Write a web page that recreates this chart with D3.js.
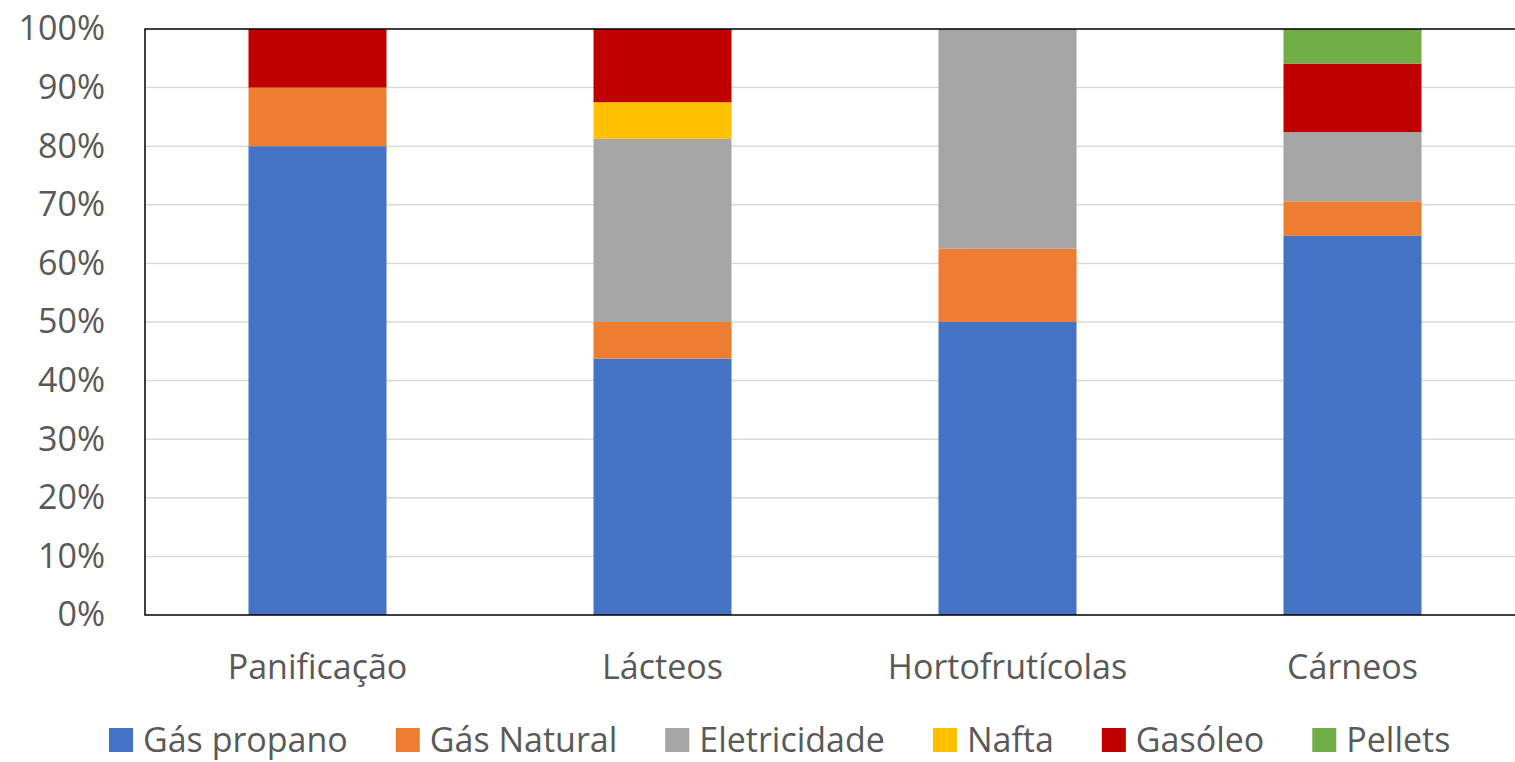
<!DOCTYPE html>
<html lang="pt">
<head>
<meta charset="UTF-8">
<script src="https://d3js.org/d3.v7.min.js"></script>
<title>Combustíveis por setor</title>
<style>
  body { margin: 0; background: #fff; }
  text { font-family: "Open Sans", "Liberation Sans", sans-serif; fill: #595959; }
</style>
</head>
<body>
<script>
// categories and series (shares, %)
var categories = ["Panificação", "Lácteos", "Hortofrutícolas", "Cárneos"]
var seriesNames = ["Gás propano", "Gás Natural", "Eletricidade", "Nafta", "Gasóleo", "Pellets"]
var colors = ["#4472C4", "#ED7D31", "#A5A5A5", "#FFC000", "#C00000", "#70AD47"]
var gasPropano = [80, 43.75, 50, 64.7]
var gasNatural = [10, 6.25, 12.5, 5.9]
var eletricidade = [0, 31.25, 37.5, 11.8]
var nafta = [0, 6.25, 0, 0]
var gasoleo = [10, 12.5, 0, 11.7]
var pellets = [0, 0, 0, 5.9]
var yTicks = [0, 10, 20, 30, 40, 50, 60, 70, 80, 90, 100]

var values = [gasPropano, gasNatural, eletricidade, nafta, gasoleo, pellets]
var rows = categories.map(function (c, i) {
    var r = { cat: c }
    seriesNames.forEach(function (s, j) { r[s] = values[j][i] })
    return r
})
var stacked = d3.stack().keys(seriesNames)(rows)

var W = 1515, H = 762
var svg = d3.select("body").append("svg").attr("width", W).attr("height", H)

var m = { left: 145, top: 29, bottom: 615, right: 1525 }
var x = d3.scaleBand().domain(categories).range([m.left, m.right]).paddingInner(0.6).paddingOuter(0.3)
var y = d3.scaleLinear().domain([0, 100]).range([m.bottom, m.top])

// gridlines
svg.append("g").selectAll("line").data(yTicks.slice(1, -1)).join("line")
    .attr("x1", m.left).attr("x2", W)
    .attr("y1", function (d) { return y(d) }).attr("y2", function (d) { return y(d) })
    .attr("stroke", "#D9D9D9").attr("stroke-width", 1.5)

// bars
svg.append("g").selectAll("g").data(stacked).join("g")
    .attr("fill", function (d, i) { return colors[i] })
    .selectAll("rect").data(function (d) { return d }).join("rect")
    .attr("x", function (d) { return x(d.data.cat) })
    .attr("width", x.bandwidth())
    .attr("y", function (d) { return y(d[1]) })
    .attr("height", function (d) { return y(d[0]) - y(d[1]) })

// plot border
svg.append("rect").attr("x", m.left).attr("y", m.top)
    .attr("width", m.right - m.left).attr("height", m.bottom - m.top)
    .attr("fill", "none").attr("stroke", "#000").attr("stroke-width", 1.5)

// y axis labels
var yAxis = d3.axisLeft(y).tickValues(yTicks).tickFormat(function (d) { return d + "%" }).tickSize(0).tickPadding(40)
var gy = svg.append("g").attr("transform", "translate(" + m.left + ",0)").call(yAxis)
gy.select(".domain").remove()
gy.selectAll("text").style("font-size", "34px").attr("fill", "#595959")

// x axis labels
var xAxis = d3.axisBottom(x).tickSize(0).tickPadding(40)
var gx = svg.append("g").attr("transform", "translate(0," + m.bottom + ")").call(xAxis)
gx.select(".domain").remove()
gx.selectAll("text").style("font-size", "34px").attr("fill", "#595959")
svg.selectAll("g").attr("font-family", null)

// legend
var legend = svg.append("g").attr("transform", "translate(109,740)")
var lx = 0
seriesNames.forEach(function (s, i) {
    var g = legend.append("g").attr("transform", "translate(" + lx + ",0)")
    g.append("rect").attr("x", 0).attr("y", -12).attr("width", 24).attr("height", 24).attr("fill", colors[i])
    var t = g.append("text").attr("x", 34).attr("dy", "0.35em").style("font-size", "34px").text(s)
    lx += 34 + t.node().getComputedTextLength() + 48
})
</script>
</body>
</html>
